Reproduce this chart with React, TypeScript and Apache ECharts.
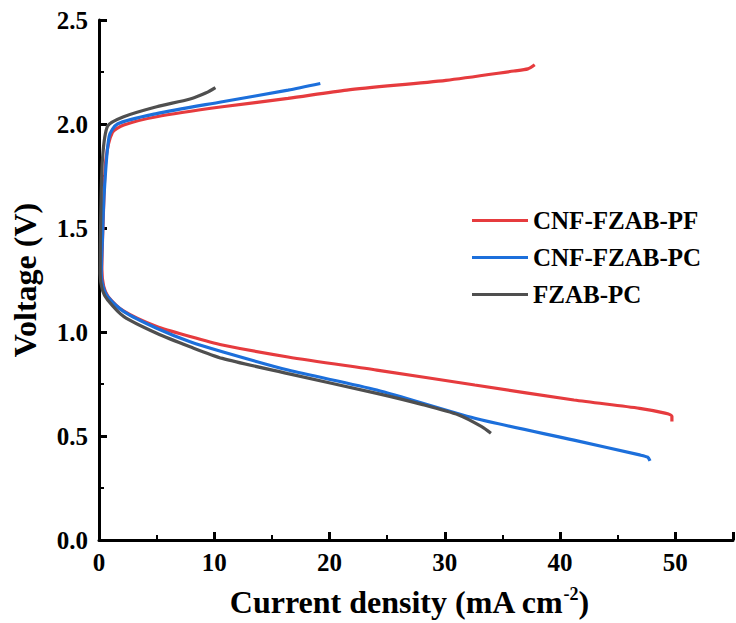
import React, { useEffect, useRef } from "react";
import * as echarts from "echarts";

const seriesNames = ["CNF-FZAB-PF", "CNF-FZAB-PC", "FZAB-PC"];
const seriesColors = ["#E63B3E", "#1C6FDB", "#4F4F4F"];

// [current density (mA cm-2), voltage (V)] : charge branch (top) then discharge branch (bottom)
const cnfPF: [number, number][] = [
  [37.8, 2.285], [37.2, 2.265], [36.0, 2.255], [30.1, 2.21], [21.5, 2.163], [16.4, 2.123],
  [10.7, 2.083], [5.0, 2.035], [2.15, 1.995], [1.17, 1.96], [0.6, 1.83], [0.4, 1.6],
  [0.25, 1.3], [0.4, 1.22], [0.8, 1.17], [2.16, 1.1], [5.0, 1.026], [7.9, 0.978],
  [10.7, 0.9375], [16.4, 0.88], [24.1, 0.817], [32.6, 0.745], [41.2, 0.673], [46.9, 0.633],
  [49.1, 0.61], [49.7, 0.595], [49.7, 0.57],
];
const cnfPC: [number, number][] = [
  [19.2, 2.195], [16.4, 2.163], [10.7, 2.107], [5.0, 2.05], [1.6, 2.0], [0.88, 1.94],
  [0.45, 1.667], [0.3, 1.45], [0.2, 1.28], [0.35, 1.22], [0.75, 1.17], [2.16, 1.098],
  [5.0, 1.018], [7.9, 0.953], [10.7, 0.905], [16.4, 0.817], [24.1, 0.721], [32.6, 0.585],
  [41.2, 0.48], [46.9, 0.409], [47.6, 0.398], [47.8, 0.38],
];
const fzabPC: [number, number][] = [
  [10.1, 2.175], [9.3, 2.15], [7.9, 2.12], [5.0, 2.083], [2.14, 2.035], [0.75, 1.99],
  [0.3, 1.83], [0.15, 1.55], [0.1, 1.28], [0.3, 1.2], [0.75, 1.154], [2.16, 1.074],
  [5.0, 0.994], [7.9, 0.929], [10.7, 0.873], [16.4, 0.8], [24.1, 0.705], [28.0, 0.652],
  [31.2, 0.601], [33.2, 0.545], [34.0, 0.513],
];
const seriesData = [cnfPF, cnfPC, fzabPC];

const xTicks = { min: 0, max: 55, interval: 10 };
const yTicks = { min: 0, max: 2.5, interval: 0.5 };

const FONT = "Liberation Serif";

function makeAxisParts() {
  return {
    axisLine: { show: true, onZero: false, lineStyle: { color: "#000000", width: 3, opacity: 1 } },
    axisTick: { show: true, inside: true, length: 8, lineStyle: { color: "#000000", width: 3, opacity: 1 } },
    minorTick: { show: true, splitNumber: 2, length: 5, lineStyle: { color: "#000000", width: 2, opacity: 1 } },
    splitLine: { show: false },
    minorSplitLine: { show: false },
    nameLocation: "middle" as const,
  };
}

export default function App() {
  const ref = useRef<HTMLDivElement>(null);
  useEffect(() => {
    if (!ref.current) return;
    const chart = echarts.init(ref.current, null, { renderer: "svg" });
    chart.setOption({
      animation: false,
      textStyle: { fontFamily: FONT },
      grid: { left: 99, right: 0, top: 20, bottom: 83, containLabel: false },
      legend: {
        orient: "vertical",
        left: 467,
        top: 203,
        icon: "rect",
        itemWidth: 56,
        itemHeight: 3,
        itemGap: 12,
        data: seriesNames,
        textStyle: { fontFamily: FONT, fontWeight: "bold", fontSize: 25, color: "#000", lineHeight: 25 },
      },
      xAxis: {
        type: "value",
        ...xTicks,
        ...makeAxisParts(),
        name: "Current density (mA cm{sup|-2})",
        nameGap: 45,
        nameTextStyle: {
          fontFamily: FONT,
          fontWeight: "bold",
          fontSize: 32,
          color: "#000",
          padding: [0, 14, 0, 0],
          rich: {
            sup: { fontFamily: FONT, fontWeight: "bold", fontSize: 18, color: "#000", padding: [0, 0, 16, 0] },
          },
        },
        axisLabel: {
          margin: 10,
          fontFamily: FONT,
          fontWeight: "bold",
          fontSize: 25,
          color: "#000",
          formatter: (v: number) => (v > 50 ? "" : String(v)),
        },
      },
      yAxis: {
        type: "value",
        ...yTicks,
        ...makeAxisParts(),
        name: "Voltage (V)",
        nameGap: 58,
        nameTextStyle: { fontFamily: FONT, fontWeight: "bold", fontSize: 32, color: "#000" },
        axisLabel: {
          margin: 11,
          fontFamily: FONT,
          fontWeight: "bold",
          fontSize: 25,
          color: "#000",
          formatter: (v: number) => v.toFixed(1),
        },
      },
      series: seriesNames.map((n, i) => ({
        name: n,
        type: "line",
        data: seriesData[i],
        symbol: "none",
        smooth: 0.25,
        itemStyle: { color: seriesColors[i] },
        lineStyle: { width: 3.2, color: seriesColors[i] },
      })),
    });
    return () => chart.dispose();
  }, []);
  return <div ref={ref} style={{ position: "absolute", left: 0, top: 0, width: 736, height: 623 }} />;
}
